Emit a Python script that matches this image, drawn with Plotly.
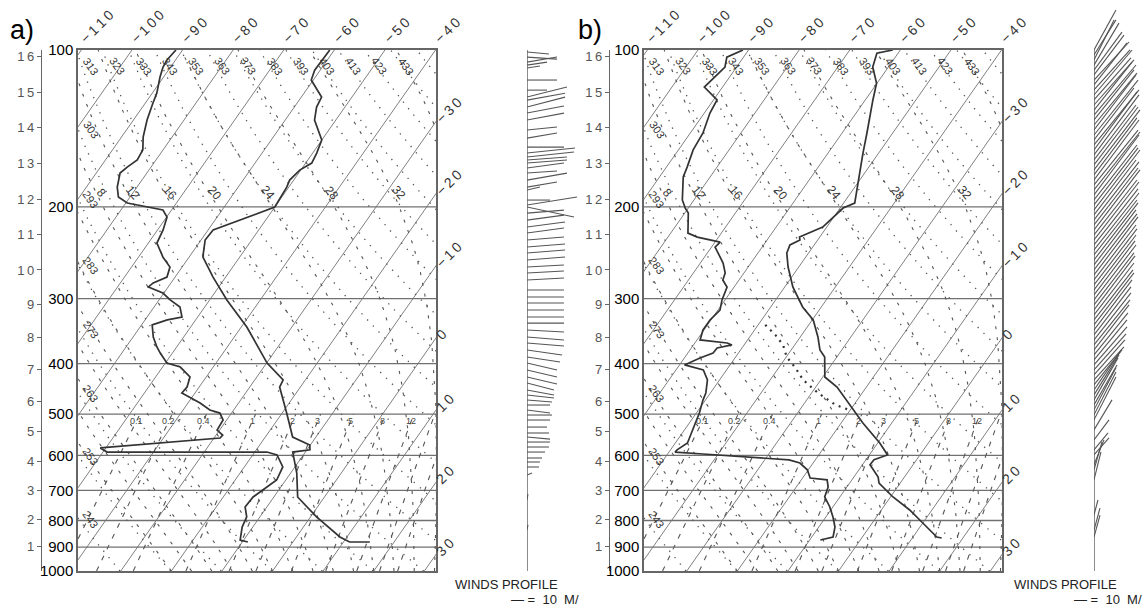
import numpy as np
import plotly.graph_objects as go

W, H = 1147, 609
FONT = "Liberation Sans, Arial, sans-serif"

# ---------------- layout geometry (pixels) ----------------
Y_TOP_PX, Y_BOT_PX = 50, 571
PANEL_A_PX = (78, 436)
PANEL_B_PX = (644, 1002)
WIND_A_PX = (527, 600)
WIND_B_PX = (1094, 1147)
HEIGHT_AXIS_A_PX = 41
HEIGHT_AXIS_B_PX = 609

SKEW = 31.36                      # degC per unit ln(p)
X_RANGE = [-38.45, 32.3]
P_BOT, P_TOP = 1000.0, 100.0
WIND_PX_PER_MS = 1.2

# ---------------- chart furniture values ----------------
isotherms = list(range(-120, 41, 10))
isobars = [200, 300, 400, 500, 600, 700, 800, 900]
press_ticks = [100, 200, 300, 400, 500, 600, 700, 800, 900, 1000]
top_T_labels = [-110, -100, -90, -80, -70, -60, -50, -40]
right_T_labels = [-30, -20, -10, 0, 10, 20, 30]
heights_km = list(range(0, 17))
theta_dry = list(range(233, 484, 10))
theta_labels = list(range(243, 434, 10))
thw_moist = list(range(-20, 37, 4))
thw_labels = [8, 12, 16, 20, 24, 28, 32]
w_mix = [0.1, 0.2, 0.4, 1, 2, 3, 5, 8, 12, 16, 20]
w_labels = [0.1, 0.2, 0.4, 1, 2, 3, 5, 8, 12]

# ---------------- sounding a ----------------
pa_t = [100.0, 105.9, 109.3, 114.2, 123.1, 128.7, 136.3, 148.9, 157.7, 164.8, 170.0, 177.7,
        183.3, 200.2, 214.9, 221.6, 231.6, 249.6, 272.8, 301.8, 340.2, 398.9, 429.7, 443.5,
        497.6, 553.2, 573.1, 585.4, 591.1, 648.5, 721.0, 787.5, 860.5, 879.8, 879.8]
ta = [-60.9, -61.1, -61.1, -60.4, -56.0, -55.6, -54.2, -50.0, -49.2, -48.8, -50.2, -50.8,
      -50.4, -50.0, -56.1, -59.0, -59.2, -57.3, -52.5, -46.6, -38.9, -29.9, -24.4, -24.1,
      -19.1, -14.6, -10.1, -9.4, -12.5, -8.8, -5.3, 1.2, 8.6, 11.2, 15.2]

pa_td = [100.0, 104.5, 107.8, 112.7, 121.0, 126.4, 136.3, 147.0, 155.5, 162.6, 167.8, 172.2,
         183.3, 191.5, 196.7, 200.2, 202.8, 209.3, 221.5, 234.8, 249.6, 261.0, 272.8, 280.0,
         285.0, 292.8, 301.8, 311.3, 325.5, 329.7, 337.0, 355.6, 371.6, 381.7, 398.9, 406.0,
         424.3, 443.5, 455.3, 476.0, 491.0, 497.6, 513.1, 536.3, 548.3, 555.5, 580.5, 591.1,
         591.1, 598.7, 631.3, 668.9, 699.0, 721.0, 753.5, 787.5, 823.5, 872.0, 879.8]
tda = [-91.3, -91.7, -91.5, -90.7, -89.1, -88.5, -87.3, -85.7, -84.0, -83.7, -84.7, -85.3,
       -83.9, -82.3, -79.7, -75.2, -71.7, -69.9, -68.9, -68.3, -65.2, -62.4, -61.6, -63.5,
       -63.9, -60.2, -57.8, -54.9, -53.1, -55.6, -57.9, -56.0, -53.9, -52.4, -49.7, -46.5,
       -43.2, -42.4, -42.6, -37.6, -34.7, -32.3, -30.7, -30.5, -28.7, -28.8, -51.1, -49.2,
       -17.6, -15.2, -12.4, -11.8, -13.1, -14.1, -14.3, -12.6, -12.1, -10.7, -8.9]

# ---------------- sounding b ----------------
pb_t = [100.0, 101.4, 107.8, 115.8, 124.7, 134.5, 144.3, 157.7, 172.2, 188.2, 196.7, 201.1,
        218.7, 228.6, 231.6, 236.7, 245.3, 261.0, 285.0, 311.3, 329.7, 355.6, 376.6, 388.4,
        406.0, 424.3, 443.5, 491.0, 520.0, 568.0, 598.7, 611.8, 625.5, 660.1, 677.8, 721.0,
        763.7, 808.9, 860.5, 864.3]
tb = [-61.5, -64.2, -63.1, -60.1, -58.5, -56.7, -55.1, -53.1, -51.0, -48.8, -47.8, -49.4,
      -50.8, -54.0, -53.5, -54.8, -54.3, -52.1, -48.4, -43.7, -39.8, -36.5, -34.3, -32.4,
      -31.0, -29.6, -25.8, -19.4, -15.7, -9.6, -6.4, -8.4, -8.5, -5.2, -4.2, 0.5,
      5.6, 10.0, 14.7, 15.8]

pb_td = [100.0, 103.2, 107.8, 117.8, 124.7, 132.1, 144.3, 155.5, 167.8, 175.3, 194.0, 201.1,
         205.6, 224.6, 228.6, 231.6, 233.7, 238.9, 245.3, 256.4, 268.0, 276.4, 285.0, 301.8,
         315.6, 329.7, 344.6, 360.1, 365.1, 368.2, 373.3, 381.7, 390.2, 402.2, 411.1, 429.7,
         455.3, 469.4, 497.6, 536.3, 568.0, 585.4, 591.1, 596.3, 601.6, 606.9, 611.8, 620.5,
         639.4, 663.0, 668.3, 689.9, 721.0, 753.5, 787.5, 823.5, 860.5, 872.0]
tdb = [-91.1, -93.3, -92.3, -93.6, -89.3, -88.9, -87.5, -87.1, -85.9, -85.3, -82.3, -80.6,
       -79.3, -76.6, -74.2, -70.7, -69.0, -69.3, -67.9, -65.5, -63.7, -63.2, -61.4, -60.6,
       -59.6, -60.2, -60.2, -59.4, -53.6, -52.4, -54.9, -55.0, -56.9, -59.0, -54.6, -52.4,
       -50.9, -50.5, -49.4, -48.3, -47.6, -48.7, -48.8, -43.0, -36.8, -29.2, -25.2, -22.6,
       -20.2, -18.5, -14.9, -13.7, -13.0, -10.6, -8.6, -6.8, -5.8, -7.9]

# dotted curve in panel b
pb_dot = [337.0, 352.3, 368.2, 388.4, 408.0, 429.7, 455.0, 480.0, 491.0]
tb_dot = [-48.6, -45.2, -42.3, -39.9, -36.6, -33.5, -28.8, -23.6, -20.1]

# ---------------- winds (pressure hPa, u m/s to the right, v m/s upward) ----------------
wa_p = [100.9, 103.2, 105.5, 106.9, 108.3, 114.2, 119.4, 123.1, 124.8, 128.7, 132.1, 136.3,
        142.4, 147.6, 153.6, 157.7, 160.5, 162.6, 164.8, 168.5, 172.2, 177.7, 183.3, 185.7,
        194.1, 198.4, 200.2, 205.6, 212.1, 218.7, 224.6, 231.6, 238.9, 245.3, 253.0, 260.9,
        268.0, 276.4, 288.9, 298.0, 306.0, 315.6, 325.5, 334.3, 344.7, 355.6, 365.1, 376.6,
        388.4, 398.9, 411.4, 424.3, 435.7, 449.4, 459.4, 469.7, 480.2, 491.0, 501.9, 513.1,
        529.3, 543.4, 553.2, 565.5, 578.1, 591.1, 606.9, 617.7, 631.5, 654.3, 730.8, 834.3]
wa_u = [18.3, 25.0, 25.0, 16.7, 10.8, 25.0, 16.7, 33.3, 31.7, 31.7, 30.8, 30.8,
        25.0, 25.0, 30.8, 40.0, 39.2, 33.3, 33.3, 30.8, 25.0, 33.3, 25.0, 10.8,
        19.2, 41.7, 39.2, 30.8, 30.8, 31.7, 30.8, 30.8, 31.7, 31.7, 31.7, 30.8,
        30.8, 30.8, 30.8, 30.8, 30.8, 30.8, 30.8, 30.8, 30.8, 30.8, 30.8, 29.2,
        27.5, 25.0, 25.0, 25.0, 22.5, 22.5, 22.5, 20.8, 19.2, 19.2, 20.8, 19.2,
        16.7, 18.3, 19.2, 19.2, 18.3, 15.0, 12.5, 10.8, 10.0, 4.2, 0.8, 0.8]
wa_v = [-1.7, -1.7, 4.2, 2.5, 1.7, 0.0, 0.0, 8.3, 5.8, 8.3, 5.8, 5.8,
        2.5, 4.2, 0.0, 4.2, 4.2, 2.5, 2.5, 4.2, 1.7, 5.8, 4.2, 2.5,
        0.0, 6.7, -8.3, 2.5, 4.2, 4.2, 4.2, 2.5, 2.5, 2.5, 2.5, 1.7,
        1.7, 1.7, 0.0, 0.0, 0.0, 0.0, 0.0, 0.0, -1.7, -2.5, -2.5, -4.2,
        -4.2, -5.8, -5.8, -5.8, -5.8, -4.2, -2.5, -1.7, 0.0, -2.5, 0.0, 0.0,
        0.0, 0.0, -1.7, 0.0, 0.0, 0.0, 0.0, 0.0, 0.0, 1.7, 5.0, 4.2]

wb_p = [100.0, 102.2, 104.5, 106.9, 109.3, 111.7, 114.2, 116.7, 119.3, 122.0, 124.7, 127.5,
        130.4, 133.3, 136.2, 139.3, 142.4, 145.6, 148.8, 152.1, 155.5, 159.0, 162.6, 166.2,
        169.9, 173.7, 177.6, 181.6, 185.6, 189.8, 194.0, 198.3, 202.8, 207.3, 211.9, 216.7,
        221.5, 226.5, 231.5, 236.7, 242.0, 247.4, 252.9, 258.5, 264.3, 270.2, 276.3, 282.4,
        288.8, 295.2, 301.8, 308.5, 315.4, 322.5, 329.7, 337.0, 344.6, 352.3, 360.1, 368.2,
        376.4, 384.8, 393.4, 402.2, 411.1, 420.3, 429.7, 439.3, 449.1, 459.1, 469.4, 479.9,
        490.6, 501.5, 512.7, 535.9, 560.1, 585.4, 598.4, 625.5, 639.4, 668.3, 780.8, 834.3,
        860.5]
wb_u = [18.3, 18.3, 16.7, 20.8, 23.3, 25.0, 29.2, 27.5, 30.0, 31.7, 30.8, 33.3,
        31.7, 35.0, 33.3, 35.8, 35.0, 36.7, 33.3, 37.5, 35.8, 37.5, 35.0, 36.7,
        38.3, 35.8, 37.5, 36.7, 38.3, 37.5, 35.8, 36.7, 38.3, 35.0, 37.5, 36.7,
        38.3, 35.8, 37.5, 36.7, 37.5, 35.8, 36.7, 35.0, 35.8, 36.7, 35.0, 35.8,
        35.0, 34.2, 35.0, 33.3, 34.2, 33.3, 32.5, 33.3, 31.7, 30.8, 30.8, 30.0,
        29.2, 28.3, 27.5, 27.5, 26.7, 25.8, 25.0, 23.3, 21.7, 20.8, 20.0, 19.2,
        18.3, 18.3, 18.3, 15.0, 12.5, 11.7, 12.5, 8.3, 6.7, 5.8, 3.3, 5.0,
        5.0]
wb_v = [33.3, 29.2, 33.3, 35.0, 31.7, 33.3, 31.7, 35.0, 33.3, 37.5, 35.0, 37.5,
        40.0, 41.7, 41.7, 43.3, 45.8, 45.8, 43.3, 45.8, 48.3, 50.0, 45.8, 48.3,
        50.0, 47.5, 50.0, 45.8, 48.3, 50.0, 45.8, 47.5, 50.0, 45.8, 48.3, 47.5,
        50.0, 45.8, 48.3, 46.7, 47.5, 45.8, 47.5, 45.8, 46.7, 48.3, 45.8, 46.7,
        45.8, 45.0, 45.8, 43.3, 45.0, 43.3, 41.7, 43.3, 41.7, 40.0, 39.2, 37.5,
        37.5, 35.0, 33.3, 31.7, 30.0, 29.2, 27.5, 29.2, 31.7, 33.3, 35.0, 33.3,
        35.0, 35.8, 35.8, 25.0, 16.7, 14.2, 14.2, 20.8, 23.3, 23.3, 12.5, 18.3,
        18.3]


# ---------------- helpers ----------------
def skew_x(T, p):
    return np.asarray(T, float) + SKEW * np.log(P_BOT / np.asarray(p, float))


PX_PER_LN = (Y_BOT_PX - Y_TOP_PX) / np.log(P_BOT / P_TOP)
PX_PER_X = (PANEL_A_PX[1] - PANEL_A_PX[0]) / (X_RANGE[1] - X_RANGE[0])


def xdom(l, r):
    return [l / W, r / W]


def ydom(top, bot):
    return [1 - bot / H, 1 - top / H]


def seg_trace(xs_list, ys_list, xa, ya, color, width, dash='solid'):
    xs, ys = [], []
    for a, b in zip(xs_list, ys_list):
        xs += [float(v) for v in a] + [None]
        ys += [float(v) for v in b] + [None]
    return go.Scatter(x=xs, y=ys, xaxis=xa, yaxis=ya, mode='lines',
                      line=dict(color=color, width=width, dash=dash),
                      hoverinfo='skip', showlegend=False)


def es_hpa(tc):
    return 6.112 * np.exp(17.67 * tc / (tc + 243.5))


def moist_profile(thw, pgrid):
    Rd, cp, Lv, eps = 287.04, 1005.7, 2.501e6, 0.622

    def f(T, p):
        es = es_hpa(T - 273.15)
        rs = eps * es / (p - es)
        return (Rd * T + Lv * rs) / (cp + Lv * Lv * rs * eps / (Rd * T * T))

    T = thw + 273.15
    out = [T]
    for i in range(1, len(pgrid)):
        p0, p1 = pgrid[i - 1], pgrid[i]
        dl = np.log(p1 / p0)
        k1 = f(T, p0)
        k2 = f(T + k1 * dl, p1)
        T = T + 0.5 * (k1 + k2) * dl
        out.append(T)
    return np.array(out) - 273.15


def mix_T(w, p):
    e = w * p / (622.0 + w)
    lg = np.log(e / 6.112)
    return 243.5 * lg / (17.67 - lg)


def isa_p(hkm):
    h = hkm * 1000.0
    if h <= 11000:
        return 1013.25 * (1 - 0.0065 * h / 288.15) ** 5.25588
    return 226.32 * np.exp(-9.80665 * (h - 11000) / (287.053 * 216.65))


def spaced(s):
    return "\u2009".join(list(s))


fig = go.Figure()
annotations = []
GRID = '#808080'
DOT = '#555555'
PROFILE = '#333333'

pg = np.geomspace(P_BOT, P_TOP, 160)
pg_fine = np.geomspace(P_BOT, P_TOP, 3000)
moist_curves = {thw: moist_profile(thw, pg_fine) for thw in thw_moist}


def add_panel(xa, ya, T, pT, Td, pTd):
    fig.add_trace(seg_trace([skew_x([t, t], [P_BOT, P_TOP]) for t in isotherms],
                            [[P_BOT, P_TOP]] * len(isotherms), xa, ya, GRID, 1))
    fig.add_trace(seg_trace([X_RANGE] * len(isobars), [[p, p] for p in isobars],
                            xa, ya, '#707070', 1.3))
    fig.add_trace(seg_trace([skew_x(th * (pg / 1000.0) ** 0.2857 - 273.15, pg) for th in theta_dry],
                            [pg] * len(theta_dry), xa, ya, DOT, 1.3, '1.3px,7px'))
    fig.add_trace(seg_trace([skew_x(moist_curves[t], pg_fine) for t in thw_moist],
                            [pg_fine] * len(thw_moist), xa, ya, DOT, 1.1, '3px,8px'))
    pm = np.geomspace(1000, 500, 40)
    fig.add_trace(seg_trace([skew_x(mix_T(w, pm), pm) for w in w_mix],
                            [pm] * len(w_mix), xa, ya, DOT, 1.1, '5px,7px'))
    fig.add_trace(go.Scatter(x=skew_x(Td, pTd), y=pTd, xaxis=xa, yaxis=ya, mode='lines',
                             line=dict(color=PROFILE, width=1.7), hoverinfo='skip', showlegend=False))
    fig.add_trace(go.Scatter(x=skew_x(T, pT), y=pT, xaxis=xa, yaxis=ya, mode='lines',
                             line=dict(color=PROFILE, width=1.7), hoverinfo='skip', showlegend=False))

    for th in theta_labels:
        Tf = th * (pg_fine / 1000.0) ** 0.2857 - 273.15
        Xf = skew_x(Tf, pg_fine)
        if Xf[-1] >= X_RANGE[0]:
            lx = Xf[-1] + 15 / PX_PER_X
            lp = P_TOP * np.exp(16 / PX_PER_LN)
        else:
            idx = int(np.argmax(Xf < X_RANGE[0]))
            lx = X_RANGE[0] + 12.5 / PX_PER_X
            lp = max(pg_fine[idx], P_TOP * np.exp(16 / PX_PER_LN))
        annotations.append(dict(x=lx, y=np.log10(lp), xref=xa, yref=ya, text=str(th),
                                showarrow=False, textangle=55,
                                font=dict(size=11, color='#333', family=FONT)))
    lp = 188.0
    for t in thw_labels:
        Xm = np.interp(np.log(lp), np.log(pg_fine[::-1]), skew_x(moist_curves[t], pg_fine)[::-1])
        annotations.append(dict(x=Xm + 6 / PX_PER_X, y=np.log10(lp), xref=xa, yref=ya, text=str(t),
                                showarrow=False, textangle=50,
                                font=dict(size=12, color='#333', family=FONT)))
    for w in w_labels:
        lpm = 515.0
        xw = float(skew_x(mix_T(w, lpm), lpm))
        if xw < X_RANGE[1] - 1:
            annotations.append(dict(x=xw, y=np.log10(lpm), xref=xa, yref=ya, text=str(w),
                                    showarrow=False, textangle=0,
                                    font=dict(size=9, color='#444', family=FONT)))


def add_winds(xa, ya, wp, wu, wv):
    fig.add_trace(seg_trace([[0, 0]], [[P_BOT, P_TOP]], xa, ya, '#666', 1.5))
    xs, ys = [], []
    for p, u, v in zip(wp, wu, wv):
        xs.append([0, u])
        ys.append([p, p * np.exp(-v * WIND_PX_PER_MS / PX_PER_LN)])
    fig.add_trace(seg_trace(xs, ys, xa, ya, '#555', 1.1))


add_panel('x', 'y', ta, pa_t, tda, pa_td)
add_panel('x3', 'y4', tb, pb_t, tdb, pb_td)
fig.add_trace(go.Scatter(x=skew_x(tb_dot, pb_dot), y=pb_dot, xaxis='x3', yaxis='y4', mode='lines',
                         line=dict(color=PROFILE, width=2.2, dash='2px,5px'),
                         hoverinfo='skip', showlegend=False))
add_winds('x5', 'y7', wa_p, wa_u, wa_v)
add_winds('x6', 'y8', wb_p, wb_u, wb_v)

for xa, ya in [('x2', 'y'), ('x', 'y2'), ('x', 'y3'), ('x4', 'y4'), ('x3', 'y5'), ('x3', 'y6')]:
    fig.add_trace(go.Scatter(x=[None], y=[None], xaxis=xa, yaxis=ya, mode='lines',
                             hoverinfo='skip', showlegend=False))

LINE = '#666666'
ydomain = ydom(Y_TOP_PX, Y_BOT_PX)
top_vals = [float(skew_x(t, P_TOP)) for t in top_T_labels]
right_vals = [float(P_BOT * np.exp(-(X_RANGE[1] - t) / SKEW)) for t in right_T_labels]
h_vals = [isa_p(h) for h in heights_km]


def minus(t):
    return spaced(("\u2212" + str(-t)) if t < 0 else str(t))


def main_axes(l, r, xm, ym, xt, yr, yh, hpos):
    xs, ys = xm.replace('xaxis', 'x'), ym.replace('yaxis', 'y')
    ax = {}
    ax[xm] = dict(domain=xdom(l, r), range=X_RANGE, anchor=ys, automargin=False,
                  showgrid=False, zeroline=False, showticklabels=False, ticks='',
                  showline=True, mirror=True, linecolor=LINE, linewidth=1.5, fixedrange=True)
    ax[ym] = dict(domain=ydomain, type='log', range=[3, 2], anchor=xs, automargin=False,
                  showgrid=False, zeroline=False, tickmode='array', tickvals=press_ticks,
                  ticktext=[str(v) for v in press_ticks], ticks='',
                  tickfont=dict(size=15, color='black', family=FONT),
                  showline=True, mirror=True, linecolor=LINE, linewidth=1.5, fixedrange=True)
    ax[xt] = dict(overlaying=xs, anchor=ys, side='top', automargin=False,
                  range=X_RANGE, showgrid=False, zeroline=False, showline=False, ticks='',
                  tickmode='array', tickvals=top_vals,
                  ticktext=[minus(t) for t in top_T_labels],
                  tickangle=-45, tickfont=dict(size=14, color='#333', family=FONT), fixedrange=True)
    ax[yr] = dict(overlaying=ys, anchor=xs, side='right', automargin=False,
                  type='log', range=[3, 2], showgrid=False, zeroline=False, showline=False, ticks='',
                  tickmode='array', tickvals=right_vals,
                  ticktext=[minus(t) for t in right_T_labels],
                  tickangle=-45, tickfont=dict(size=14, color='#333', family=FONT), fixedrange=True)
    ax[yh] = dict(overlaying=ys, anchor='free', position=hpos / W, side='left', automargin=False,
                  type='log', range=[3, 2], showgrid=False, zeroline=False,
                  showline=True, linecolor=LINE, linewidth=1.3, ticks='outside', ticklen=4,
                  tickcolor=LINE, tickmode='array', tickvals=h_vals,
                  ticktext=[spaced(str(h)) for h in heights_km],
                  tickfont=dict(size=13, color='#555', family=FONT), fixedrange=True)
    return ax


layout_axes = {}
layout_axes.update(main_axes(PANEL_A_PX[0], PANEL_A_PX[1], 'xaxis', 'yaxis', 'xaxis2', 'yaxis2', 'yaxis3',
                             HEIGHT_AXIS_A_PX))
layout_axes.update(main_axes(PANEL_B_PX[0], PANEL_B_PX[1], 'xaxis3', 'yaxis4', 'xaxis4', 'yaxis5', 'yaxis6',
                             HEIGHT_AXIS_B_PX))
wind_y_range = [3, 3 - (Y_BOT_PX / PX_PER_LN) / np.log(10)]
for xn, yn, (l, r) in [('xaxis5', 'yaxis7', WIND_A_PX), ('xaxis6', 'yaxis8', WIND_B_PX)]:
    layout_axes[xn] = dict(domain=xdom(l, r), range=[0, (r - l) / WIND_PX_PER_MS],
                           anchor=yn.replace('yaxis', 'y'), automargin=False,
                           visible=False, fixedrange=True)
    layout_axes[yn] = dict(domain=[1 - Y_BOT_PX / H, 1.0], type='log', range=wind_y_range,
                           anchor=xn.replace('xaxis', 'x'), automargin=False,
                           visible=False, fixedrange=True)

for txt, xpx in [('a)', 8), ('b)', 576)]:
    annotations.append(dict(x=xpx / W, y=1 - 30 / H, xref='paper', yref='paper', text=txt,
                            showarrow=False, xanchor='left', yanchor='middle',
                            font=dict(size=27, color='black', family=FONT)))
for cx, rx in [(506, 581), (1065, 1144)]:
    annotations.append(dict(x=cx / W, y=1 - 584 / H, xref='paper', yref='paper', text='WINDS PROFILE',
                            showarrow=False, xanchor='center', yanchor='middle',
                            font=dict(size=13, color='#222', family=FONT)))
    annotations.append(dict(x=rx / W, y=1 - 599 / H, xref='paper', yref='paper', text='\u2014 =  10  M/',
                            showarrow=False, xanchor='right', yanchor='middle',
                            font=dict(size=13, color='#222', family=FONT)))

fig.update_layout(width=W, height=H, margin=dict(l=0, r=0, t=0, b=0, autoexpand=False),
                  paper_bgcolor='white', plot_bgcolor='rgba(0,0,0,0)', showlegend=False,
                  annotations=annotations, **layout_axes)

fig.write_html("out.html", config={'displayModeBar': False},
               post_script="document.body.style.margin='0px';document.body.style.overflow='hidden';")
